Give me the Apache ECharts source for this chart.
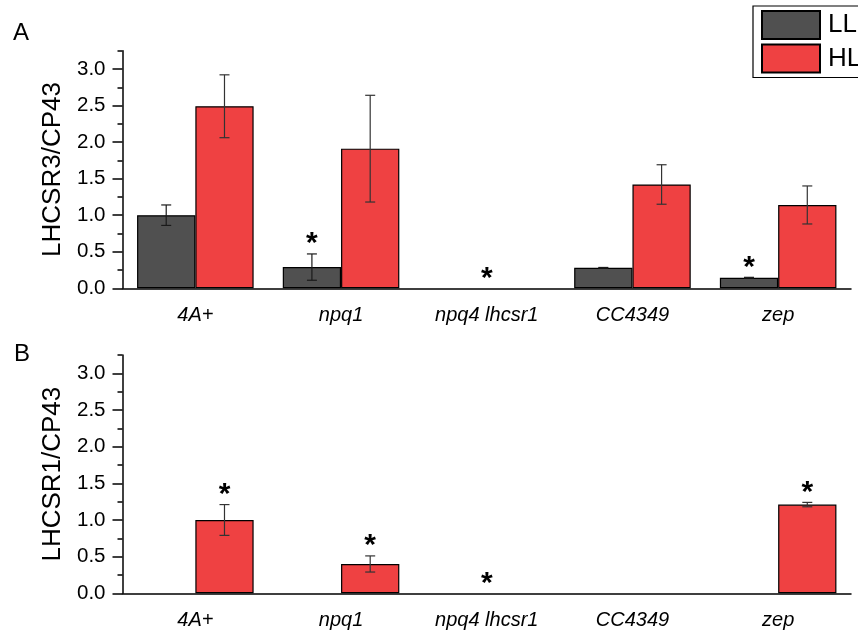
<!DOCTYPE html>
<html>
<head>
<meta charset="utf-8">
<script src="https://cdn.jsdelivr.net/npm/echarts@6/dist/echarts.min.js"></script>
<style>
  html, body { margin: 0; padding: 0; background: #fff; }
  #chart { width: 858px; height: 633px; }
</style>
</head>
<body>
<div id="chart"></div>
<script>
// Strains on the x axis
const categories = ['4A+', 'npq1', 'npq4 lhcsr1', 'CC4349', 'zep'];

// Panel A: LHCSR3 / CP43
const lhcsr3LL = [1.0, 0.29, 0, 0.28, 0.145];
const lhcsr3LLErr = [0.14, 0.18, 0, 0.005, 0.005];
const lhcsr3HL = [2.49, 1.91, 0, 1.42, 1.14];
const lhcsr3HLErr = [0.43, 0.73, 0, 0.27, 0.26];
// significance marks: which bar of each strain carries an asterisk
const lhcsr3Stars = ['', 'LL', 'both', '', 'LL'];

// Panel B: LHCSR1 / CP43
const lhcsr1LL = [0, 0, 0, 0, 0];
const lhcsr1LLErr = [0, 0, 0, 0, 0];
const lhcsr1HL = [1.0, 0.40, 0, 0, 1.21];
const lhcsr1HLErr = [0.21, 0.11, 0, 0, 0.03];
const lhcsr1Stars = ['HL', 'HL', 'both', '', 'HL'];

const yTicks = [0, 0.5, 1.0, 1.5, 2.0, 2.5, 3.0];
const yMax = 3.25;

const FONT = 'Liberation Sans, Arial, Helvetica, sans-serif';
const COLOR_LL = '#505050';
const COLOR_HL = '#ef4142';

const chart = echarts.init(document.getElementById('chart'), null, { renderer: 'canvas' });

const grids = [
  { left: 122.5, right: 7, top: 50.7, height: 237.6 },
  { left: 122.5, right: 7, top: 355, height: 238.3 }
];

function xAxisFor(g) {
  return {
    type: 'category', gridIndex: g, data: categories,
    axisLine: { lineStyle: { color: '#000', width: 1.5 } },
    axisTick: { alignWithLabel: true, length: 9, lineStyle: { color: '#000', width: 1.5 } },
    axisLabel: { color: '#000', fontStyle: 'italic', fontSize: 20, fontFamily: FONT, margin: 17 },
    splitLine: { show: false }
  };
}

function yAxesFor(g, name) {
  return [
    {
      type: 'value', gridIndex: g, position: 'left', min: 0, max: yMax, interval: 0.5,
      name: name, nameLocation: 'middle', nameGap: 52,
      nameTextStyle: { color: '#000', fontSize: 26, fontFamily: FONT },
      axisLine: { show: true, lineStyle: { color: '#000', width: 1.5 } },
      axisTick: { show: true, length: 10, customValues: yTicks, lineStyle: { color: '#000', width: 1.5 } },
      axisLabel: {
        color: '#000', fontSize: 20.5, fontFamily: FONT, margin: 17, customValues: yTicks,
        formatter: v => (yTicks.indexOf(v) >= 0 ? v.toFixed(1) : '')
      },
      splitLine: { show: false }
    },
    {
      // minor ticks every 0.25
      type: 'value', gridIndex: g, position: 'left', offset: 0, min: 0, max: yMax, interval: 0.25,
      axisLine: { show: false },
      axisTick: { show: true, length: 5, lineStyle: { color: '#000', width: 1.5 } },
      axisLabel: { show: false },
      splitLine: { show: false }
    }
  ];
}

// zero-valued entries get no bar (nothing is drawn for them)
function barSeries(name, g, values, color) {
  return {
    name: name, type: 'bar', xAxisIndex: g, yAxisIndex: g * 2,
    data: values.map(v => (v === 0 ? '-' : v)), barGap: '0%', barCategoryGap: '20%',
    itemStyle: { color: color, borderColor: '#000', borderWidth: 1.2 },
    emphasis: { disabled: true }, z: 2
  };
}

// Error bars drawn on top of the bars, offset to the LL (-1) or HL (+1) half of each band
function errorSeries(g, values, errs, side, color) {
  const data = values.map((v, i) => [i, v, errs[i]]);
  return {
    type: 'custom', xAxisIndex: g, yAxisIndex: g * 2, z: 5, silent: true,
    data: data,
    renderItem: function (params, api) {
      const i = api.value(0), v = api.value(1), e = api.value(2);
      if (!(e > 0)) return null;
      const band = api.size([1, 0])[0];
      const x = api.coord([i, 0])[0] + side * band * 0.2;
      const top = api.coord([i, v + e])[1];
      const bot = api.coord([i, Math.max(v - e, 0)])[1];
      const st = { stroke: color, lineWidth: 1.2 };
      return {
        type: 'group', children: [
          { type: 'line', shape: { x1: x, y1: top, x2: x, y2: bot }, style: st },
          { type: 'line', shape: { x1: x - 5, y1: top, x2: x + 5, y2: top }, style: st },
          { type: 'line', shape: { x1: x - 5, y1: bot, x2: x + 5, y2: bot }, style: st }
        ]
      };
    }
  };
}

// Asterisks above the marked bars
function starSeries(g, stars, ll, llErr, hl, hlErr) {
  const data = [];
  stars.forEach((s, i) => {
    if (!s) return;
    const side = s === 'LL' ? -1 : s === 'HL' ? 1 : 0;
    const top = s === 'LL' ? ll[i] + llErr[i]
      : s === 'HL' ? hl[i] + hlErr[i]
      : Math.max(ll[i] + llErr[i], hl[i] + hlErr[i]);
    data.push([i, top, side]);
  });
  return {
    type: 'custom', xAxisIndex: g, yAxisIndex: g * 2, z: 6, silent: true,
    data: data,
    renderItem: function (params, api) {
      const i = api.value(0), top = api.value(1), side = api.value(2);
      const band = api.size([1, 0])[0];
      const x = api.coord([i, 0])[0] + side * band * 0.2;
      const y = api.coord([i, top])[1];
      return {
        type: 'text',
        style: {
          text: '*', x: x, y: y - 10, align: 'center', verticalAlign: 'middle',
          font: 'bold 30px ' + FONT, fill: '#000'
        }
      };
    }
  };
}

const option = {
  backgroundColor: '#fff',
  animation: false,
  grid: grids,
  xAxis: [xAxisFor(0), xAxisFor(1)],
  yAxis: yAxesFor(0, 'LHCSR3/CP43').concat(yAxesFor(1, 'LHCSR1/CP43')),
  legend: {
    data: ['LL', 'HL'], orient: 'vertical', left: 753, top: 6,
    itemWidth: 58, itemHeight: 28, itemGap: 3.5,
    padding: [4, 60, 4, 8],
    borderColor: '#000', borderWidth: 1.2,
    icon: 'rect',
    selectedMode: false,
    textStyle: { color: '#000', fontSize: 26, fontFamily: FONT, padding: [0, 0, 0, 3] }
  },
  graphic: [
    { type: 'text', left: 13, top: 21, style: { text: 'A', font: '24px ' + FONT, fill: '#000' } },
    { type: 'text', left: 14, top: 342, style: { text: 'B', font: '24px ' + FONT, fill: '#000' } }
  ],
  series: [
    barSeries('LL', 0, lhcsr3LL, COLOR_LL),
    barSeries('HL', 0, lhcsr3HL, COLOR_HL),
    errorSeries(0, lhcsr3LL, lhcsr3LLErr, -1, '#1a1a1a'),
    errorSeries(0, lhcsr3HL, lhcsr3HLErr, 1, '#333'),
    starSeries(0, lhcsr3Stars, lhcsr3LL, lhcsr3LLErr, lhcsr3HL, lhcsr3HLErr),
    barSeries('LL', 1, lhcsr1LL, COLOR_LL),
    barSeries('HL', 1, lhcsr1HL, COLOR_HL),
    errorSeries(1, lhcsr1LL, lhcsr1LLErr, -1, '#1a1a1a'),
    errorSeries(1, lhcsr1HL, lhcsr1HLErr, 1, '#333'),
    starSeries(1, lhcsr1Stars, lhcsr1LL, lhcsr1LLErr, lhcsr1HL, lhcsr1HLErr)
  ]
};

chart.setOption(option);
</script>
</body>
</html>
